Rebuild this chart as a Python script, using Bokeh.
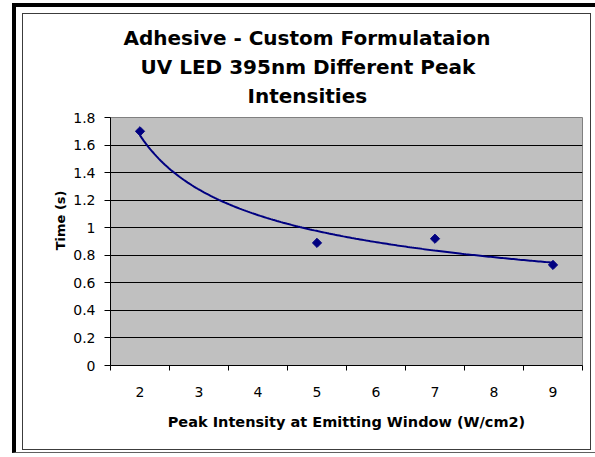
import numpy as np
from bokeh.plotting import figure
from bokeh.layouts import column
from bokeh.models import FixedTicker, NumeralTickFormatter, Title, ColumnDataSource
from bokeh.embed import file_html
from bokeh.resources import INLINE

# ---- data ----
intensity = [2, 5, 7, 9]
time_s = [1.70, 0.89, 0.92, 0.73]
x_categories = [2, 3, 4, 5, 6, 7, 8, 9]
y_ticks = [0, 0.2, 0.4, 0.6, 0.8, 1.0, 1.2, 1.4, 1.6, 1.8]

title_lines = ["Adhesive - Custom Formulataion", "UV LED 395nm Different Peak", "Intensities"]
title_offsets = [13, 30, 137]   # px from plot-area left so lines centre on the chart
x_title = "Peak Intensity at Emitting Window (W/cm2)"
y_title = "Time (s)"

FONT = "DejaVu Sans"
NAVY = "#000080"

p = figure(
    width=567, height=435,
    x_range=(1.5, 9.5), y_range=(0, 1.8),
    output_backend="svg", toolbar_location=None,
    min_border_left=87, min_border_right=10, min_border_top=103, min_border_bottom=86,
    background_fill_color="#C0C0C0", border_fill_color="white",
    outline_line_color="#808080", outline_line_width=1,
    styles={"border": "1px solid #3c3c3c", "box-sizing": "content-box", "flex-shrink": "0"},
)
p.title.visible = False

# spacer between the plot area and the title block
p.add_layout(Title(text=" ", text_font_size="2px", standoff=4), "above")
# title lines: first added sits closest to the plot area
for line, off in reversed(list(zip(title_lines, title_offsets))):
    p.add_layout(Title(text=line, align="left", offset=off, text_font=FONT,
                       text_font_size="20px", text_font_style="bold",
                       text_color="black", standoff=3), "above")

# y axis title
p.add_layout(Title(text=y_title, align="right", offset=73, text_font=FONT,
                   text_font_size="13px", text_font_style="bold",
                   text_color="black", standoff=5), "left")

# x axis: labels centred in categories, tick marks between them
half = [c - 0.5 for c in x_categories] + [x_categories[-1] + 0.5]
p.xaxis.ticker = FixedTicker(ticks=x_categories, minor_ticks=half)
p.xaxis.major_tick_in = 0
p.xaxis.major_tick_out = 0
p.xaxis.minor_tick_in = 0
p.xaxis.minor_tick_out = 5
p.xaxis.minor_tick_line_color = "black"
p.xaxis.axis_line_color = "black"
p.xaxis.major_label_text_font = FONT
p.xaxis.major_label_text_font_size = "14px"
p.xaxis.major_label_text_color = "black"
p.xaxis.major_label_standoff = 16
p.xaxis.axis_label = x_title
p.xaxis.axis_label_text_font = FONT
p.xaxis.axis_label_text_font_size = "14.5px"
p.xaxis.axis_label_text_font_style = "bold"
p.xaxis.axis_label_text_color = "black"
p.xaxis.axis_label_standoff = 14

p.yaxis.ticker = FixedTicker(ticks=y_ticks, minor_ticks=[])
p.yaxis.formatter = NumeralTickFormatter(format="0.[0]")
p.yaxis.major_tick_in = 0
p.yaxis.major_tick_out = 6
p.yaxis.major_tick_line_color = "black"
p.yaxis.axis_line_color = "black"
p.yaxis.major_label_text_font = FONT
p.yaxis.major_label_text_font_size = "14px"
p.yaxis.major_label_text_color = "black"
p.yaxis.major_label_standoff = 9

p.xgrid.visible = False
p.ygrid.ticker = FixedTicker(ticks=y_ticks)
p.ygrid.grid_line_color = "black"
p.ygrid.grid_line_width = 1

# power trendline fitted on category index (as the spreadsheet line chart does)
idx = np.array([x_categories.index(v) + 1 for v in intensity], dtype=float)
b, ln_a = np.polyfit(np.log(idx), np.log(time_s), 1)
xi = np.linspace(idx.min(), idx.max(), 200)
ys = np.exp(ln_a) * xi ** b
xs = x_categories[0] + (xi - 1)
p.line(xs, ys, line_color=NAVY, line_width=2)

src = ColumnDataSource(dict(x=intensity, y=time_s))
p.scatter("x", "y", source=src, marker="square", angle=np.pi / 4, size=6.5,
          fill_color=NAVY, line_color=NAVY)

layout = column(p, styles={"border-top": "4px solid black", "border-left": "4px solid black",
                           "border-bottom": "1px solid #606060",
                           "padding": "6px 3px 2px 6px", "margin": "3px 0 0 12px",
                           "width": "570px", "box-sizing": "content-box", "overflow": "visible"})

open("out.html", "w").write(file_html(layout, INLINE))
